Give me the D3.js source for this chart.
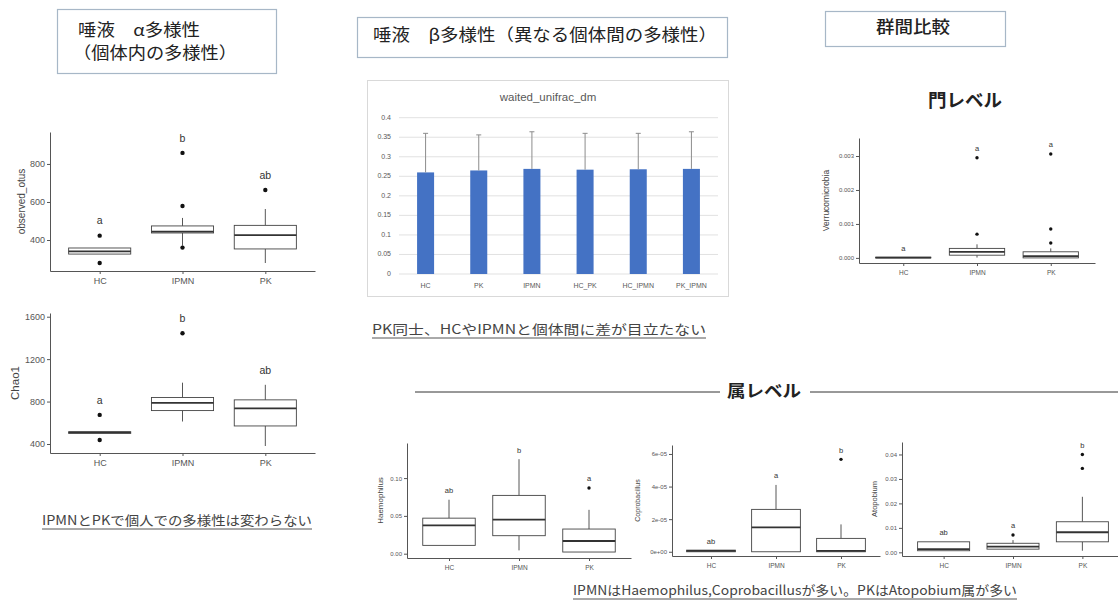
<!DOCTYPE html>
<html>
<head>
<meta charset="utf-8">
<script src="https://cdn.jsdelivr.net/npm/d3@7"></script>
<style>
  body { margin: 0; background: #fff; }
  svg { display: block; }
</style>
</head>
<body>
<svg id="c" width="1118" height="600"></svg>
<script>
// ---------- data ----------
const groups = ["HC", "IPMN", "PK"];

// box statistics per group: [lower whisker, Q1, median, Q3, upper whisker]
const otusBox = [[326, 326, 340, 358, 358], [370, 437, 444, 474, 516], [279, 353, 426, 477, 563]];
const otusOutliers = [[0, 423], [0, 279], [1, 360], [1, 579], [1, 858], [2, 663]];
const otusLetters = ["a", "b", "ab"];
const otusTicks = [400, 600, 800];
const otusTickLabels = ["400", "600", "800"];

const chaoBox = [[500, 500, 510, 515, 515], [612, 715, 787, 838, 978], [381, 570, 735, 816, 958]];
const chaoOutliers = [[0, 674], [0, 438], [1, 1444]];
const chaoLetters = ["a", "b", "ab"];
const chaoTicks = [400, 800, 1200, 1600];
const chaoTickLabels = ["400", "800", "1200", "1600"];

const verruBox = [[0, 0, 0.00001, 0.00002, 0.00002], [0.00001, 0.00008, 0.00018, 0.00028, 0.0004], [0, 0, 0.00005, 0.00018, 0.00028]];
const verruOutliers = [[1, 0.0007], [1, 0.00295], [2, 0.00044], [2, 0.00085], [2, 0.00306]];
const verruLetters = ["a", "a", "a"];
const verruTicks = [0, 0.001, 0.002, 0.003];
const verruTickLabels = ["0.000", "0.001", "0.002", "0.003"];

const haemBox = [[0.011, 0.011, 0.0374, 0.047, 0.0714], [0.0044, 0.0238, 0.045, 0.0771, 0.125], [0.0022, 0.0022, 0.0168, 0.0326, 0.058]];
const haemOutliers = [[2, 0.0869]];
const haemLetters = ["ab", "b", "a"];
const haemTicks = [0, 0.05, 0.10];
const haemTickLabels = ["0.00", "0.05", "0.10"];

const coproBox = [[0, 0, 0.0000006, 0.000001, 0.000001], [0, 0, 0.000015, 0.000026, 0.000041], [0, 0, 0.0000006, 0.0000082, 0.0000168]];
const coproOutliers = [[2, 0.0000567]];
const coproLetters = ["ab", "a", "b"];
const coproTicks = [0, 0.00002, 0.00004, 0.00006];
const coproTickLabels = ["0e+00", "2e-05", "4e-05", "6e-05"];

const atopoBox = [[0.00065, 0.00065, 0.0013, 0.0043, 0.0043], [0.0013, 0.0013, 0.0023, 0.0037, 0.005], [0.00065, 0.0043, 0.0082, 0.0125, 0.0227]];
const atopoOutliers = [[1, 0.0071], [2, 0.0343], [2, 0.04]];
const atopoLetters = ["ab", "a", "b"];
const atopoTicks = [0, 0.01, 0.02, 0.03, 0.04];
const atopoTickLabels = ["0.00", "0.01", "0.02", "0.03", "0.04"];

// weighted UniFrac distance: mean and standard deviation per comparison
const betaGroups = ["HC", "PK", "IPMN", "HC_PK", "HC_IPMN", "PK_IPMN"];
const betaMean = [0.260, 0.265, 0.269, 0.267, 0.268, 0.269];
const betaSD = [0.100, 0.091, 0.095, 0.093, 0.092, 0.095];
const betaTicks = [0, 0.05, 0.1, 0.15, 0.2, 0.25, 0.3, 0.35, 0.4];
const betaTickLabels = ["0", "0.05", "0.1", "0.15", "0.2", "0.25", "0.3", "0.35", "0.4"];

// ---------- drawing ----------
const svg = d3.select("#c");
const JP = "'Noto Sans CJK JP', 'Noto Sans', sans-serif";
const LAT = "'Liberation Sans', Arial, sans-serif";
const AX = "#555";

function boxPanel(cfg, box, outliers, letters, ticks, tickLabels, title) {
  const g = svg.append("g");
  const x = d3.scaleLinear().domain([0.4, 3.6]).range([cfg.x0, cfg.x1]);
  const y = d3.scaleLinear().domain(cfg.domain).range([cfg.bot, cfg.top]);
  const half = (x(1.375) - x(1)) ;

  const yAxis = g.append("g").attr("transform", `translate(${cfg.x0},0)`)
    .call(d3.axisLeft(y).tickValues(ticks).tickFormat((d, i) => tickLabels[i]).tickSize(3).tickSizeOuter(0).tickPadding(2));
  const xAxis = g.append("g").attr("transform", `translate(0,${cfg.bot})`)
    .call(d3.axisBottom(x).tickValues([1, 2, 3]).tickFormat(d => groups[d - 1]).tickSize(3).tickSizeOuter(0).tickPadding(cfg.xPad));
  [yAxis, xAxis].forEach(a => {
    a.select(".domain").attr("stroke", AX).attr("stroke-width", 1);
    a.selectAll(".tick line").attr("stroke", AX);
    a.selectAll("text").attr("fill", "#555").style("font-family", LAT);
  });
  yAxis.selectAll("text").style("font-size", cfg.tickFont + "px");
  xAxis.selectAll("text").style("font-size", cfg.xFont + "px");

  g.append("text")
    .attr("transform", `translate(${cfg.titleX},${(cfg.top + cfg.bot) / 2}) rotate(-90)`)
    .attr("text-anchor", "middle").attr("dominant-baseline", "middle")
    .style("font-family", LAT).style("font-size", cfg.titleFont + "px").attr("fill", "#444")
    .text(title);

  const items = g.selectAll(".bx").data(box).join("g");
  items.append("line")
    .attr("x1", (d, i) => x(i + 1)).attr("x2", (d, i) => x(i + 1))
    .attr("y1", d => y(d[4])).attr("y2", d => y(d[3]))
    .attr("stroke", "#444").attr("stroke-width", 0.9);
  items.append("line")
    .attr("x1", (d, i) => x(i + 1)).attr("x2", (d, i) => x(i + 1))
    .attr("y1", d => y(d[1])).attr("y2", d => y(d[0]))
    .attr("stroke", "#444").attr("stroke-width", 0.9);
  items.append("rect")
    .attr("x", (d, i) => x(i + 1) - half).attr("width", 2 * half)
    .attr("y", d => y(d[3])).attr("height", d => Math.max(0.5, y(d[1]) - y(d[3])))
    .attr("fill", "#fff").attr("stroke", "#444").attr("stroke-width", 0.9);
  items.append("line")
    .attr("x1", (d, i) => x(i + 1) - half).attr("x2", (d, i) => x(i + 1) + half)
    .attr("y1", d => y(d[2])).attr("y2", d => y(d[2]))
    .attr("stroke", "#333").attr("stroke-width", 1.8);

  g.selectAll(".pt").data(outliers).join("circle")
    .attr("cx", d => x(d[0] + 1)).attr("cy", d => y(d[1])).attr("r", cfg.r)
    .attr("fill", "#111");

  g.selectAll(".lt").data(letters).join("text")
    .attr("x", (d, i) => x(i + 1))
    .attr("y", (d, i) => {
      const vals = [box[i][4]].concat(outliers.filter(o => o[0] === i).map(o => o[1]));
      return y(d3.max(vals)) - cfg.letterGap;
    })
    .attr("text-anchor", "middle").attr("dominant-baseline", "middle")
    .style("font-family", LAT).style("font-size", cfg.letterFont + "px").attr("fill", "#333")
    .text(d => d);
}

const big = { tickFont: 9, xFont: 9, titleFont: 10, letterFont: 10.5, letterGap: 14, r: 2.2, xPad: 4 };
const small = { tickFont: 6, xFont: 6.5, titleFont: 8, letterFont: 7.5, letterGap: 8.5, r: 1.7, xPad: 4 };

boxPanel(Object.assign({ x0: 50, x1: 315, top: 132, bot: 271, domain: [237, 968], titleX: 22 }, big),
  otusBox, otusOutliers, otusLetters, otusTicks, otusTickLabels, "observed_otus");
boxPanel(Object.assign({ x0: 50, x1: 315, top: 313, bot: 453, domain: [315, 1635], titleX: 16 }, big, { titleFont: 11.5 }),
  chaoBox, chaoOutliers, chaoLetters, chaoTicks, chaoTickLabels, "Chao1");
boxPanel(Object.assign({ x0: 859, x1: 1095, top: 138, bot: 263, domain: [-0.00015, 0.00353], titleX: 827 }, small, { titleFont: 8.5 }),
  verruBox, verruOutliers, verruLetters, verruTicks, verruTickLabels, "Verrucomicrobia");
boxPanel(Object.assign({ x0: 407, x1: 631, top: 443, bot: 558, domain: [-0.0057, 0.1464], titleX: 381 }, small, { titleFont: 8 }),
  haemBox, haemOutliers, haemLetters, haemTicks, haemTickLabels, "Haemophilus");
boxPanel(Object.assign({ x0: 672, x1: 880, top: 445, bot: 556, domain: [-0.0000026, 0.0000655], titleX: 638 }, small, { titleFont: 7 }),
  coproBox, coproOutliers, coproLetters, coproTicks, coproTickLabels, "Coprobacillus");
boxPanel(Object.assign({ x0: 902, x1: 1124, top: 442, bot: 556, domain: [-0.0015, 0.0451], titleX: 875 }, small, { titleFont: 7.5 }),
  atopoBox, atopoOutliers, atopoLetters, atopoTicks, atopoTickLabels, "Atopobium");

// ---------- beta diversity bar chart ----------
(function () {
  const g = svg.append("g");
  g.append("rect").attr("x", 367.5).attr("y", 80.5).attr("width", 361).attr("height", 216)
    .attr("fill", "#fff").attr("stroke", "#d9d9d9");
  g.append("text").attr("x", 548).attr("y", 98).attr("text-anchor", "middle").attr("dominant-baseline", "middle")
    .style("font-family", LAT).style("font-size", "11.5px").attr("fill", "#595959").text("waited_unifrac_dm");

  const x = d3.scaleBand().domain(betaGroups).range([399, 718]).paddingInner(0.68).paddingOuter(0.34);
  const y = d3.scaleLinear().domain([0, 0.4]).range([274, 117.7]);

  g.selectAll(".grid").data(betaTicks).join("line")
    .attr("x1", 399).attr("x2", 718).attr("y1", d => y(d)).attr("y2", d => y(d))
    .attr("stroke", "#d9d9d9").attr("stroke-width", 0.8);
  g.selectAll(".yl").data(betaTicks).join("text")
    .attr("x", 391).attr("y", d => y(d)).attr("text-anchor", "end").attr("dominant-baseline", "middle")
    .style("font-family", LAT).style("font-size", "7px").attr("fill", "#595959")
    .text((d, i) => betaTickLabels[i]);

  g.selectAll(".bar").data(betaMean).join("rect")
    .attr("x", (d, i) => x(betaGroups[i])).attr("width", x.bandwidth())
    .attr("y", d => y(d)).attr("height", d => y(0) - y(d))
    .attr("fill", "#4472c4");

  const cx = i => x(betaGroups[i]) + x.bandwidth() / 2;
  g.selectAll(".err").data(betaMean).join("line")
    .attr("x1", (d, i) => cx(i)).attr("x2", (d, i) => cx(i))
    .attr("y1", d => y(d)).attr("y2", (d, i) => y(d + betaSD[i]))
    .attr("stroke", "#8c8c8c").attr("stroke-width", 1);
  g.selectAll(".cap").data(betaMean).join("line")
    .attr("x1", (d, i) => cx(i) - 2.5).attr("x2", (d, i) => cx(i) + 2.5)
    .attr("y1", (d, i) => y(d + betaSD[i])).attr("y2", (d, i) => y(d + betaSD[i]))
    .attr("stroke", "#8c8c8c").attr("stroke-width", 1);

  g.selectAll(".xl").data(betaGroups).join("text")
    .attr("x", d => x(d) + x.bandwidth() / 2).attr("y", 286).attr("text-anchor", "middle").attr("dominant-baseline", "middle")
    .style("font-family", LAT).style("font-size", "7px").attr("fill", "#595959").text(d => d);
})();

// ---------- headings, boxes and captions ----------
function box(x, y, w, h) {
  svg.append("rect").attr("x", x + 0.5).attr("y", y + 0.5).attr("width", w).attr("height", h)
    .attr("fill", "#fff").attr("stroke", "#a7b7c7").attr("stroke-width", 1.2);
}
function label(txt, x, y, size, opts = {}) {
  const t = svg.append("text").attr("x", x).attr("y", y)
    .attr("text-anchor", opts.anchor || "middle").attr("dominant-baseline", "middle")
    .style("font-family", JP).style("font-size", size + "px")
    .style("font-weight", opts.weight || "normal").attr("fill", opts.color || "#222").text(txt);
  if (opts.len) t.attr("textLength", opts.len).attr("lengthAdjust", "spacingAndGlyphs");
  return t;
}

box(57, 9, 219, 64);
label("唾液　α多様性", 78, 32, 16.5, { anchor: "start", len: 122 });
label("（個体内の多様性）", 73, 55, 16.5, { anchor: "start", len: 164 });

box(357, 17, 370, 40);
label("唾液　β多様性（異なる個体間の多様性）", 373, 37, 16.5, { anchor: "start", len: 344 });

box(825, 11, 180, 35);
label("群間比較", 913, 29, 16.5, { weight: 500, len: 74 });

label("門レベル", 965, 102, 18, { weight: "bold", len: 74 });

// genus level divider
svg.append("line").attr("x1", 415).attr("x2", 720).attr("y1", 392).attr("y2", 392).attr("stroke", "#333").attr("stroke-width", 1);
svg.append("line").attr("x1", 810).attr("x2", 1118).attr("y1", 392).attr("y2", 392).attr("stroke", "#333").attr("stroke-width", 1);
label("属レベル", 764, 392, 17, { weight: "bold", len: 74 });

function caption(txt, x, y, len) {
  label(txt, x, y, 13, { anchor: "start", len: len, color: "#444" });
  svg.append("line").attr("x1", x).attr("x2", x + len).attr("y1", y + 8).attr("y2", y + 8)
    .attr("stroke", "#555").attr("stroke-width", 1);
}
caption("IPMNとPKで個人での多様性は変わらない", 42, 521, 270);
caption("PK同士、HCやIPMNと個体間に差が目立たない", 372, 330, 334);
caption("IPMNはHaemophilus,Coprobacillusが多い。PKはAtopobium属が多い", 573, 591, 444);
</script>
</body>
</html>
